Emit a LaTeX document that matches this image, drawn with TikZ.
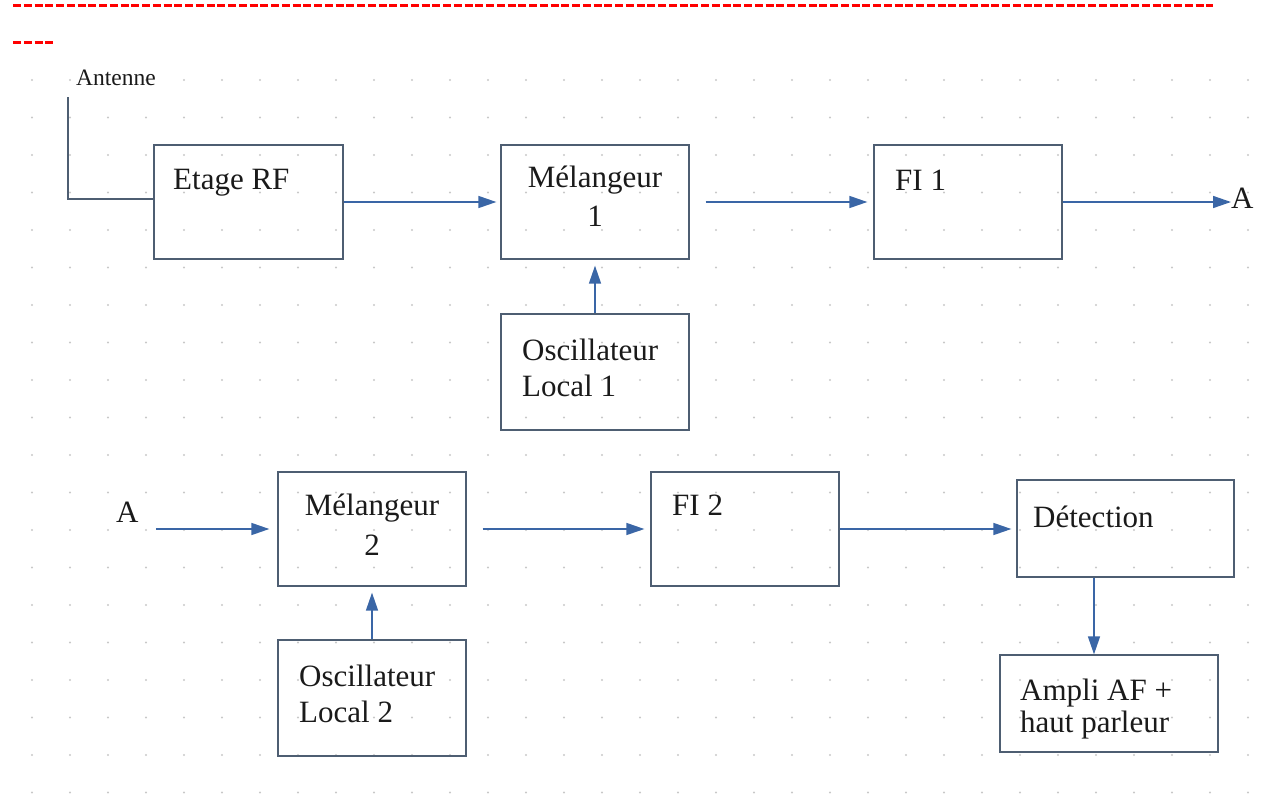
\documentclass[tikz,border=0pt]{standalone}
\usepackage{fontspec}
\setmainfont{Liberation Serif}
\usetikzlibrary{arrows.meta}
\definecolor{boxc}{HTML}{4E5E72}
\definecolor{arrc}{HTML}{3A66A6}
\definecolor{txtc}{HTML}{1A1A1A}
\definecolor{dotc}{HTML}{C8C8C8}
\begin{document}
\begin{tikzpicture}[x=1pt,y=-1pt,
  blk/.style={draw=boxc,line width=1.3pt,inner sep=0pt,fill=none},
  lbl/.style={anchor=base,inner sep=0pt,text=txtc,font=\fontsize{31}{36}\selectfont},
  lblw/.style={lbl,anchor=base west},
  arr/.style={draw=arrc,line width=1.5pt,-{Triangle[length=18pt,width=12pt]}},
  wire/.style={draw=boxc,line width=1.5pt}]
\useasboundingbox (0,0) rectangle (1261,809);
% faint background dot grid
\foreach \i in {0,...,32}{\foreach \j in {0,...,19}{
  \fill[dotc] (32+38*\i,80+37.5*\j) circle (1.2pt);}}
% red dashed header
\draw[red,line width=3pt,dash pattern=on 8pt off 2.75pt] (13,5) -- (1213,5);
\draw[red,line width=3pt,dash pattern=on 8pt off 2.75pt] (13,42) -- (54,42);
% boxes
\node[blk,minimum width=189pt,minimum height=114pt] (rf) at (248.5,202) {};
\node[blk,minimum width=188pt,minimum height=114pt] (m1) at (595,202) {};
\node[blk,minimum width=188pt,minimum height=114pt] (fi1) at (968,202) {};
\node[blk,minimum width=188pt,minimum height=116pt] (o1) at (595,372) {};
\node[blk,minimum width=188pt,minimum height=114pt] (m2) at (372,529) {};
\node[blk,minimum width=188pt,minimum height=114pt] (fi2) at (745,529) {};
\node[blk,minimum width=217pt,minimum height=97pt] (det) at (1125.5,528.5) {};
\node[blk,minimum width=218pt,minimum height=97pt] (amp) at (1109,703.5) {};
\node[blk,minimum width=188pt,minimum height=116pt] (o2) at (372,698) {};
% texts
\node[lblw,font=\fontsize{23.5}{26}\selectfont] (tant) at (76,85) {Antenne};
\node[lblw] (trf) at (173,189) {Etage RF};
\node[lbl] (tm1a) at (595,187) {Mélangeur};
\node[lbl] (tm1b) at (595,226) {1};
\node[lblw] (tfi1) at (895,190) {FI 1};
\node[lblw] (tA1) at (1231,208) {A};
\node[lblw] (to1a) at (522,360) {Oscillateur};
\node[lblw] (to1b) at (522,396) {Local 1};
\node[lblw] (tA2) at (116,522) {A};
\node[lbl] (tm2a) at (372,515) {Mélangeur};
\node[lbl] (tm2b) at (372,555) {2};
\node[lblw] (tfi2) at (672,515) {FI 2};
\node[lblw] (tdet) at (1033,527) {Détection};
\node[lblw] (tam1) at (1020,700) {Ampli AF +};
\node[lblw] (tam2) at (1020,732) {haut parleur};
\node[lblw] (to2a) at (299,686) {Oscillateur};
\node[lblw] (to2b) at (299,722) {Local 2};
% antenna wire
\coordinate (ant) at (68,97);
\draw[wire] (ant) |- ([yshift=3pt]rf.west);
% connectors
\draw[arr,shorten >=4pt] (rf.east) -- (m1.west);
\draw[arr,shorten <=16pt,shorten >=6pt] (m1.east) -- (fi1.west);
\draw[arr] (fi1.east) -- (fi1.east -| tA1.west);
\draw[arr,shorten >=6pt] (o1.north) -- (m1.south);
\draw[arr,shorten <=17pt,shorten >=8pt] (tA2.east |- m2.west) -- (m2.west);
\draw[arr,shorten <=16pt,shorten >=6pt] (m2.east) -- (fi2.west);
\draw[arr,shorten >=5pt] (fi2.east) -- (det.west |- fi2.east);
\draw[arr] (det.south -| amp.north) ++(-15pt,0) coordinate (dd) -- (dd |- amp.north);
\draw[arr,shorten >=6pt] (o2.north) -- (m2.south);
\end{tikzpicture}
\end{document}
